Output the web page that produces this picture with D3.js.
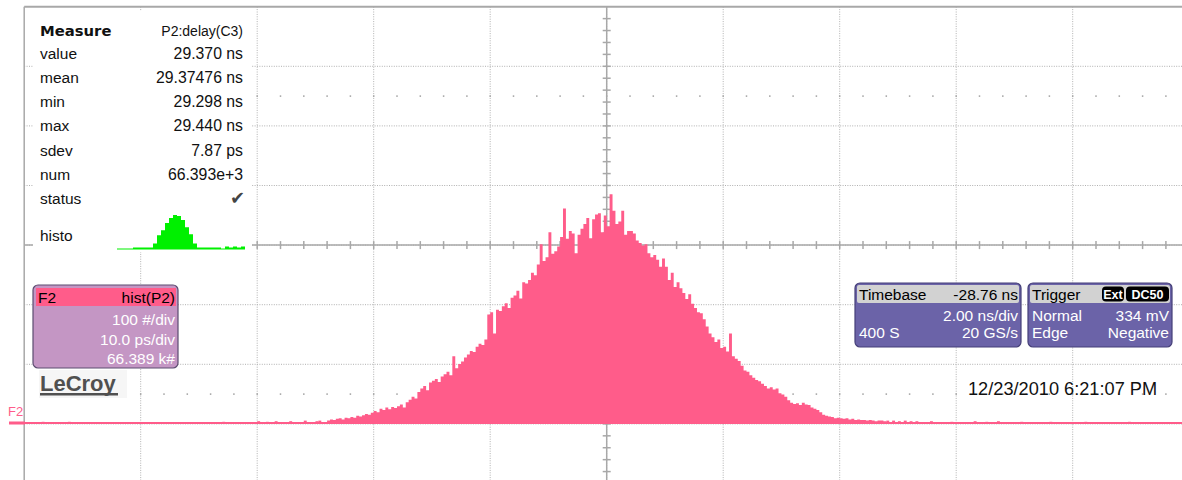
<!DOCTYPE html>
<html>
<head>
<meta charset="utf-8">
<script src="https://cdn.jsdelivr.net/npm/d3@7"></script>
<style>
body { margin: 0; background: #fff; }
svg { display: block; font-family: "Liberation Sans", Arial, sans-serif; }
</style>
</head>
<body>
<svg id="scope" width="1182" height="480"></svg>
<script>
// F2 = hist(P2): counts per 0.25 ps bin, first bin starts at -24 ps (relative to screen centre)
const binStart = -24;
const binWidth = 0.25;
const histCounts = [
    4, 6, 5, 7, 8, 6, 9, 8,
    10, 9, 12, 11, 13, 15, 14, 17,
    20, 18, 24, 22, 26, 23, 27, 25,
    28, 31, 26, 35, 39, 44, 41, 52,
    58, 62, 55, 68, 71, 74, 69, 78,
    82, 86, 80, 112, 92, 99, 103, 110,
    115, 121, 119, 128, 133, 131, 140, 182,
    186, 150, 190, 188, 196, 201, 193, 210,
    214, 222, 209, 236, 234, 240, 252, 248,
    266, 300, 272, 278, 320, 284, 288, 296,
    312, 360, 309, 322, 318, 285, 316, 326,
    334, 344, 310, 342, 350, 352, 320, 348,
    330, 384, 356, 334, 338, 356, 316, 322,
    322, 318, 306, 302, 298, 300, 285, 278,
    282, 274, 262, 276, 262, 240, 252, 228,
    236, 226, 218, 208, 216, 200, 193, 186,
    184, 174, 162, 150, 144, 136, 140, 126,
    128, 120, 150, 112, 108, 104, 96, 88,
    86, 80, 76, 72, 70, 66, 62, 58,
    60, 56, 58, 50, 48, 44, 38, 34,
    32, 33, 30, 34, 31, 30, 26, 24,
    22, 18, 14, 12, 11, 10, 8, 9,
    8, 7, 8, 6, 7, 5, 6, 5,
    5, 4, 5, 4, 3, 4, 4, 3
];
// sparse outliers outside the main hump
const tailPs = [-48.5, -46.25, -33, -30, -29.25, -28.5, -27.25, -26, -25, -24.75,
    24, 24.5, 25, 25.5, 26, 26.5, 27.75, 29.5, 31.5, 32.5, 33.5, 35.5, 38, 41, 44.75];
const tailCounts = [2, 2, 2, 3, 2, 3, 3, 4, 3, 4,
    4, 4, 3, 4, 3, 3, 3, 2, 3, 2, 3, 2, 2, 2, 2];

// small green histogram in the Measure table
const miniHisto = [1, 1, 1, 1, 2, 2, 2, 2, 2, 6, 14, 19, 26, 31, 34, 33,
    29, 22, 15, 6, 2, 2, 2, 2, 2, 2, 1, 3, 2, 3, 2, 3];

const measureTitle = ["Measure", "P2:delay(C3)"];
const measureLabels = ["value", "mean", "min", "max", "sdev", "num", "status", "histo"];
const measureValues = ["29.370 ns", "29.37476 ns", "29.298 ns", "29.440 ns", "7.87 ps", "66.393e+3", "", ""];

const f2Header = ["F2", "hist(P2)"];
const f2Lines = ["100 #/div", "10.0 ps/div", "66.389 k#"];

const timebase = ["Timebase", "-28.76 ns", "", "2.00 ns/div", "400 S", "20 GS/s"];
const trigger = ["Trigger", "", "Normal", "334 mV", "Edge", "Negative"];
const triggerBadges = ["Ext", "DC50"];
const stamp = "12/23/2010 6:21:07 PM";

//________________________________________________________________________
const width = 1182;
const height = 480;
const gridLeft = 24.2, divW = 116.5, gridTop = 6.7, divH = 59.6;
const baseY = 423;
const pink = "#ff5c8a";

const svg = d3.select("#scope");

const gx = d3.scaleLinear().domain([0, 10]).range([gridLeft, gridLeft + 10 * divW]);
const gy = d3.scaleLinear().domain([0, 8]).range([gridTop, gridTop + 8 * divH]);
const x = d3.scaleLinear().domain([-50, 50]).range([gx(0), gx(10)]);
const y = d3.scaleLinear().domain([0, 100]).range([baseY, baseY - divH]);

// grid
const grid = svg.append("g");
grid.selectAll(".vg").data(d3.range(1, 11)).join("line")
    .attr("x1", d => gx(d)).attr("x2", d => gx(d))
    .attr("y1", gy(0)).attr("y2", height)
    .attr("stroke", "#b0b0b0").attr("stroke-dasharray", "1,1.4");
grid.selectAll(".hg").data(d3.range(1, 8)).join("line")
    .attr("x1", gx(0)).attr("x2", width)
    .attr("y1", d => gy(d)).attr("y2", d => gy(d))
    .attr("stroke", "#b0b0b0").attr("stroke-dasharray", "1,1.4");
// dotted rows at 1.5 and 6.5 div
[1.5, 6.5].forEach(r => {
    grid.selectAll(null).data(d3.range(1, 50)).join("rect")
        .attr("x", d => gx(d / 5) - 0.75).attr("y", gy(r) - 0.75)
        .attr("width", 1.5).attr("height", 1.5).attr("fill", "#a0a0a0");
});
// border
grid.append("line").attr("x1", gx(0)).attr("x2", width).attr("y1", gy(0)).attr("y2", gy(0))
    .attr("stroke", "#a8a8a8").attr("stroke-width", 2);
grid.append("line").attr("x1", gx(0)).attr("x2", gx(0)).attr("y1", gy(0)).attr("y2", height)
    .attr("stroke", "#a8a8a8").attr("stroke-width", 1.5);
// centre axes with minor ticks
grid.append("line").attr("x1", gx(0)).attr("x2", width).attr("y1", gy(4)).attr("y2", gy(4))
    .attr("stroke", "#a8a8a8").attr("stroke-width", 1.5);
grid.append("line").attr("x1", gx(5)).attr("x2", gx(5)).attr("y1", gy(0)).attr("y2", height)
    .attr("stroke", "#a8a8a8").attr("stroke-width", 1.5);
grid.selectAll(".tx").data(d3.range(1, 50)).join("line")
    .attr("x1", d => gx(d / 5)).attr("x2", d => gx(d / 5))
    .attr("y1", gy(4) - 4).attr("y2", gy(4) + 4)
    .attr("stroke", "#a8a8a8").attr("stroke-width", 1.5);
grid.selectAll(".ty").data(d3.range(1, 41)).join("line")
    .attr("x1", gx(5) - 4).attr("x2", gx(5) + 4)
    .attr("y1", d => gy(d / 5)).attr("y2", d => gy(d / 5))
    .attr("stroke", "#a8a8a8").attr("stroke-width", 1.5);

// histogram trace, drawn as one stepped area so neighbouring bins do not show seams
const hist = svg.append("g").attr("fill", pink);
const area = d3.area()
    .curve(d3.curveStepAfter)
    .x((d, i) => x(binStart + i * binWidth))
    .y0(y(0))
    .y1(d => y(d));
hist.append("path")
    .datum(histCounts.concat([0]))
    .attr("d", area);
hist.selectAll(".tail").data(tailPs).join("rect")
    .attr("x", d => x(d))
    .attr("width", x(binWidth) - x(0))
    .attr("y", (d, i) => y(tailCounts[i]))
    .attr("height", (d, i) => y(0) - y(tailCounts[i]));
svg.append("line").attr("x1", gx(0)).attr("x2", width).attr("y1", y(0)).attr("y2", y(0))
    .attr("stroke", pink).attr("stroke-width", 2);

// F2 marker on the left
svg.append("rect").attr("x", 9).attr("y", y(0) - 1.5).attr("width", 16).attr("height", 3).attr("fill", pink);
svg.append("text").attr("x", 8).attr("y", 416).attr("font-size", 13).attr("fill", pink).text("F2");
svg.append("rect").attr("x", 52).attr("y", 11).attr("width", 2).attr("height", 3).attr("fill", pink);

// Measure table
const m = svg.append("g");
m.append("rect").attr("x", 33).attr("y", 11).attr("width", 219).attr("height", 241).attr("fill", "#fff");
m.append("text").attr("x", 40).attr("y", 35.5)
    .attr("font-family", "DejaVu Sans").attr("font-weight", "bold").attr("font-size", 14.8)
    .attr("fill", "#111").text(measureTitle[0]);
m.append("text").attr("x", 243).attr("y", 35.5).attr("text-anchor", "end")
    .attr("font-size", 14).attr("fill", "#111").text(measureTitle[1]);
const rowY = i => i < 7 ? 59 + i * 24.15 : 240.5;
m.selectAll(".ml").data(measureLabels).join("text")
    .attr("x", 40).attr("y", (d, i) => rowY(i))
    .attr("font-size", 15.5).attr("fill", "#111").text(d => d);
m.selectAll(".mv").data(measureValues).join("text")
    .attr("x", 243).attr("y", (d, i) => rowY(i)).attr("text-anchor", "end")
    .attr("font-size", 15.8).attr("fill", "#111").text(d => d);
m.append("text").attr("x", 245).attr("y", rowY(6)).attr("text-anchor", "end")
    .attr("font-family", "DejaVu Sans").attr("font-size", 18).attr("fill", "#444").text("\u2714");
const mx = d3.scaleLinear().domain([0, miniHisto.length]).range([117, 245]);
const my = d3.scaleLinear().domain([0, 34]).range([249.5, 215]);
m.append("path")
    .datum(miniHisto.concat([miniHisto[miniHisto.length - 1]]))
    .attr("fill", "#00f000")
    .attr("d", d3.area().curve(d3.curveStepAfter).x((d, i) => mx(i)).y0(my(0)).y1(d => my(d)));

// F2 descriptor box
const f2 = svg.append("g");
f2.append("rect").attr("x", 33).attr("y", 285).attr("width", 145).attr("height", 83).attr("rx", 5)
    .attr("fill", "#c496c4").attr("stroke", "#5c4c70").attr("stroke-width", 1.2);
f2.append("rect").attr("x", 36).attr("y", 288).attr("width", 140).attr("height", 18).attr("fill", pink);
f2.append("text").attr("x", 38).attr("y", 302.5).attr("font-size", 15.5).attr("fill", "#000").text(f2Header[0]);
f2.append("text").attr("x", 175).attr("y", 302.5).attr("text-anchor", "end").attr("font-size", 15.5)
    .attr("fill", "#000").text(f2Header[1]);
f2.selectAll(".fl").data(f2Lines).join("text")
    .attr("x", 175).attr("y", (d, i) => 325 + i * 19.7).attr("text-anchor", "end")
    .attr("font-size", 15.5).attr("fill", "#fff").text(d => d);

// LeCroy logo
svg.append("rect").attr("x", 39).attr("y", 370).attr("width", 88).attr("height", 28).attr("fill", "#f6f6f6");
svg.append("text").attr("x", 40).attr("y", 390.5).attr("font-weight", "bold").attr("font-size", 22)
    .attr("fill", "#505050").text("LeCroy");
svg.append("rect").attr("x", 40).attr("y", 393).attr("width", 78).attr("height", 2.5).attr("fill", "#505050");

// Timebase / Trigger descriptors
function descriptor(x0, w, rows) {
    const g = svg.append("g");
    g.append("rect").attr("x", x0).attr("y", 283).attr("width", w).attr("height", 64).attr("rx", 5)
        .attr("fill", "#6b63a8").attr("stroke", "#453f78").attr("stroke-width", 1.2);
    g.append("rect").attr("x", x0 + 2).attr("y", 285).attr("width", w - 4).attr("height", 18).attr("rx", 2)
        .attr("fill", "#d2d2d2");
    rows.forEach((t, i) => {
        const r = Math.floor(i / 2), right = i % 2 === 1;
        g.append("text")
            .attr("x", right ? x0 + w - 3 : x0 + 4)
            .attr("y", 300 + r * 20.5 + (r === 2 ? -3.5 : 0))
            .attr("text-anchor", right ? "end" : "start")
            .attr("font-size", 15.5)
            .attr("fill", r === 0 ? "#000" : "#fff")
            .text(t);
    });
    return g;
}
descriptor(855, 166, timebase);
const trg = descriptor(1028, 144, trigger);
const badgeX = [1102, 1126], badgeW = [22, 43];
triggerBadges.forEach((t, i) => {
    trg.append("rect").attr("x", badgeX[i]).attr("y", 286.5).attr("width", badgeW[i]).attr("height", 15)
        .attr("rx", 4).attr("fill", "#000");
    trg.append("text").attr("x", badgeX[i] + badgeW[i] / 2).attr("y", 298.5).attr("text-anchor", "middle")
        .attr("font-weight", "bold").attr("font-size", 12.5).attr("fill", "#fff").text(t);
});

svg.append("text").attr("x", 968).attr("y", 394.5).attr("font-size", 18.2).attr("fill", "#111")
    .text(stamp);
</script>
</body>
</html>
